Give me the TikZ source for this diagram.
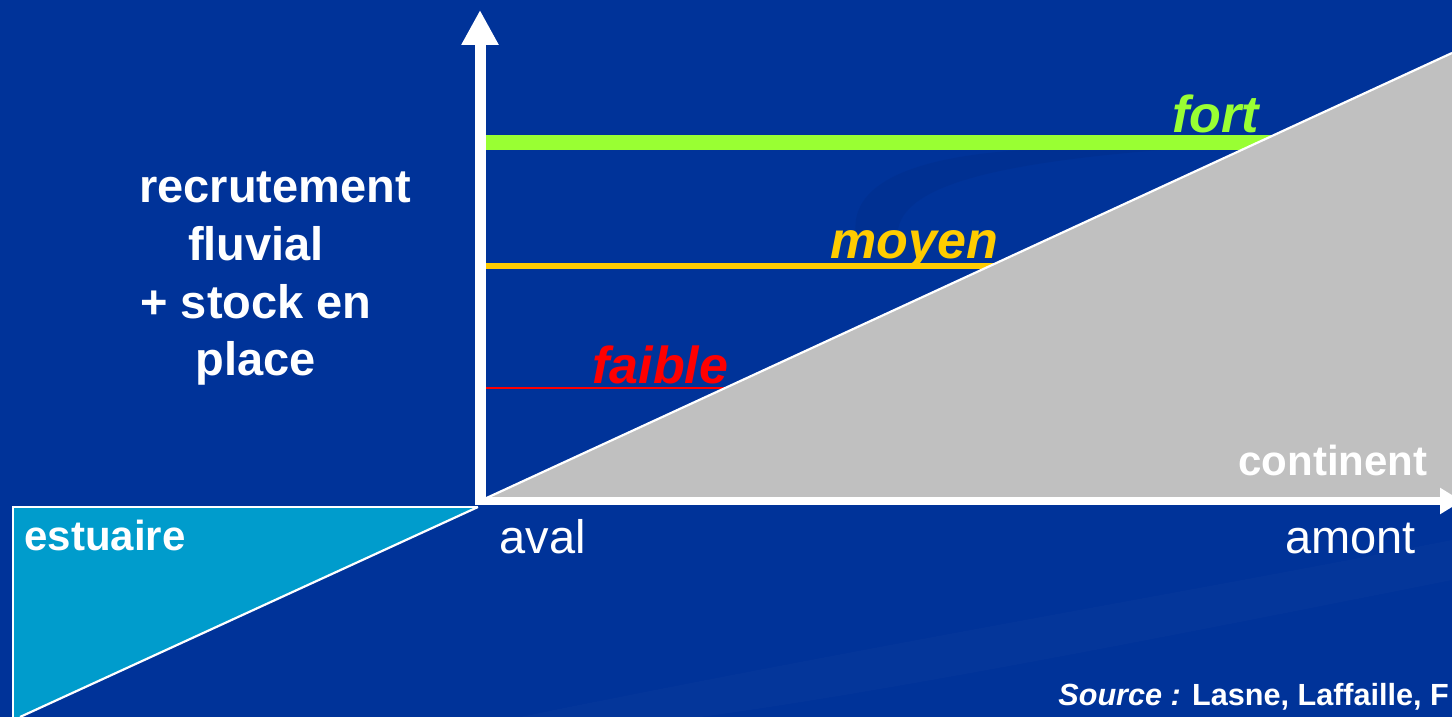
\documentclass[tikz,border=0pt]{standalone}
\usepackage{fontspec}
\setmainfont{Liberation Sans}
\usetikzlibrary{arrows.meta}
\definecolor{bg}{HTML}{003399}
\definecolor{bgdark}{HTML}{002E8C}
\definecolor{land}{HTML}{C0C0C0}
\definecolor{estu}{HTML}{009CCC}
\definecolor{fortc}{HTML}{99FF33}
\definecolor{moyc}{HTML}{FFCC00}
\definecolor{faic}{HTML}{FF0000}
\tikzset{
  lvl/.style={font=\fontsize{26}{30}\selectfont\bfseries\itshape, anchor=base west, inner sep=0pt},
  ylab/.style={font=\fontsize{23.5}{28}\selectfont\bfseries, text=white, anchor=base, inner sep=0pt},
  blab/.style={font=\fontsize{21}{25}\selectfont\bfseries, text=white, anchor=base west, inner sep=0pt},
  xlab/.style={font=\fontsize{23.5}{28}\selectfont, text=white, anchor=base west, inner sep=0pt},
}
\begin{document}
\begin{tikzpicture}[x=0.5pt,y=-0.5pt]
\useasboundingbox (0,0) rectangle (1452,717);
\fill[bg] (0,0) rectangle (1452,717);
% faint background swooshes
\fill[bgdark,opacity=0.5] (860,250) .. controls (830,170) and (950,140) .. (1160,150)
  .. controls (980,165) and (880,190) .. (900,250) -- cycle;
\fill[white,opacity=0.015] (520,717) .. controls (900,640) and (1200,590) .. (1452,540)
  -- (1452,580) .. controls (1200,630) and (900,690) .. (700,717) -- cycle;

% coordinates
\coordinate (O) at (480,501);
\coordinate (Otop) at (480,505);
\coordinate (Ytip) at (480,10);
\coordinate (Xtip) at (1462,501);
\coordinate (Hyp) at (1452,53);
\coordinate (Ecorner) at (13,507);
\coordinate (Eright) at (478,507);
\coordinate (Ebot) at (20,717);
\coordinate (Ebotl) at (13,717);

% estuary triangle
\fill[estu] (Ecorner) -- (Eright) -- (Ebot) -- (Ebotl) -- cycle;
\draw[white,line width=1pt] (Ebotl) -- (Ecorner) -- (Eright);
\draw[white,line width=1.1pt] (Eright) -- (Ebot);

% level lines
\coordinate (Gs) at (485,143); \coordinate (Ge) at (1300,143);
\coordinate (Ys) at (485,266); \coordinate (Ye) at (1050,266);
\coordinate (Rs) at (485,388); \coordinate (Re) at (780,388);
\draw[fortc,line width=7.5pt] (Gs) -- (Ge);
\draw[moyc,line width=3.3pt] (Ys) -- (Ye);
\draw[faic,line width=1.3pt] (Rs) -- (Re);

% land triangle
\fill[land] (O) -- (Hyp) -- (1452,501) -- cycle;
\draw[white,line width=1.1pt] (O) -- (Hyp);

% axes
\draw[white,line width=4pt,-{Triangle[length=11pt,width=12.5pt]}] (476,501) -- (Xtip);
\draw[white,line width=5.5pt,-{Triangle[length=17.5pt,width=17.5pt]}] (Otop) -- (Ytip);

% labels
\node[lvl,text=fortc] (fort) at (1172,133) {fort};
\node[lvl,text=moyc] (moyen) at (830,258) {moyen};
\node[lvl,text=faic] (faible) at (592,383) {faible};

\node[ylab] (r1) at (275,203) {recrutement};
\node[ylab] (r2) at (256,260.5) {fluvial};
\node[ylab] (r3) at (256,318) {+ stock en};
\node[ylab] (r4) at (256,375.5) {place};

\node[blab] (estuaire) at (24,550) {estuaire};
\node[blab] (continent) at (1238,475) {continent};
\node[xlab] (aval) at (499,553) {aval};
\node[xlab] (amont) at (1285,553) {amont};

\node[font=\fontsize{15.3}{18}\selectfont\bfseries, text=white, anchor=base west, inner sep=0pt] (src) at (1058,705) {\textit{Source :} Lasne, Laffaille, F};
\end{tikzpicture}
\end{document}
